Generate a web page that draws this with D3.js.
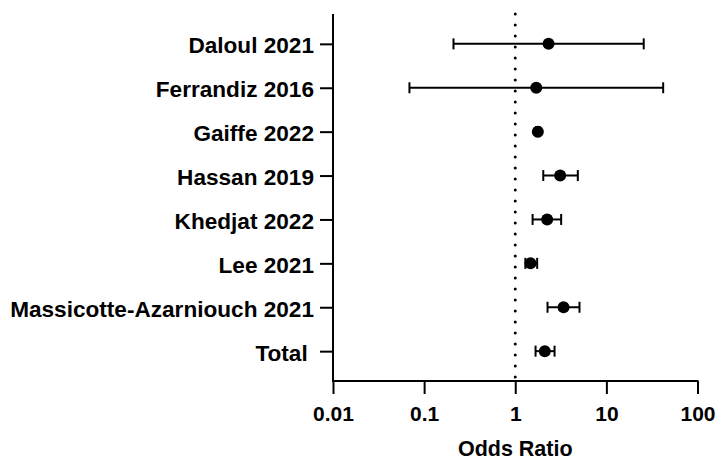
<!DOCTYPE html>
<html>
<head>
<meta charset="utf-8">
<script src="https://cdn.jsdelivr.net/npm/d3@7"></script>
<style>
  html, body { margin: 0; padding: 0; background: #fff; }
  svg { display: block; font-family: "Liberation Sans", Arial, Helvetica, sans-serif; font-weight: bold; }
</style>
</head>
<body>
<svg id="chart" width="716" height="459"></svg>
<script>
// Study labels, top to bottom
const studies = [
  "Daloul 2021",
  "Ferrandiz 2016",
  "Gaiffe 2022",
  "Hassan 2019",
  "Khedjat 2022",
  "Lee 2021",
  "Massicotte-Azarniouch 2021",
  "Total\u00a0"
];
// Odds ratios with 95% confidence limits
const oddsRatio = [2.32, 1.70, 1.77, 3.11, 2.24, 1.47, 3.39, 2.11];
const ciLower   = [0.21, 0.069, 1.69, 2.03, 1.55, 1.29, 2.26, 1.67];
const ciUpper   = [25.7, 42.0, 1.86, 4.86, 3.19, 1.74, 5.07, 2.70];
// Log-axis ticks
const tickValues = [0.01, 0.1, 1, 10, 100];
const tickLabels = ["0.01", "0.1", "1", "10", "100"];

const rows = studies.map((s, i) => ({
  study: s, or: oddsRatio[i], lo: ciLower[i], hi: ciUpper[i]
}));

const svg = d3.select("#chart");
const plotLeft = 333, plotRight = 697.5, plotTop = 14, plotBottom = 381;

const x = d3.scaleLog().domain([0.01, 100]).range([plotLeft, plotRight]);
const y = d3.scalePoint().domain(studies).range([plotTop, plotBottom]).padding(0.68);

// Reference line at OR = 1
svg.append("line")
  .attr("x1", x(1)).attr("x2", x(1))
  .attr("y1", plotTop).attr("y2", plotBottom - 3)
  .attr("stroke", "#000")
  .attr("stroke-width", 3)
  .attr("stroke-linecap", "round")
  .attr("stroke-dasharray", "0,11");

// X axis
const xAxis = svg.append("g")
  .attr("transform", `translate(0,${plotBottom})`)
  .call(d3.axisBottom(x)
    .tickValues(tickValues)
    .tickFormat((d, i) => tickLabels[i])
    .tickSize(13)
    .tickSizeOuter(0)
    .tickPadding(12));
xAxis.select(".domain").attr("stroke-width", 2).attr("d", `M${plotLeft - 1},0H${plotRight + 1}`);
xAxis.selectAll(".tick line").attr("stroke-width", 2);
xAxis.selectAll(".tick text")
  .attr("fill", "#000")
  .style("font-size", "21px")
  .style("font-weight", "bold");

// Y axis
const yAxis = svg.append("g")
  .attr("transform", `translate(${plotLeft},0)`)
  .call(d3.axisLeft(y).tickSize(13).tickSizeOuter(0).tickPadding(6));
yAxis.select(".domain").attr("stroke-width", 2).attr("d", `M0,${plotTop}V${plotBottom + 1}`);
yAxis.selectAll(".tick line").attr("stroke-width", 2);
yAxis.selectAll(".tick text")
  .attr("fill", "#000")
  .attr("dy", "0.4em")
  .style("font-size", "22.6px")
  .style("font-weight", "bold");

// Axis title
svg.append("text")
  .attr("x", x(1)).attr("y", 455.5)
  .attr("text-anchor", "middle")
  .style("font-size", "21.5px")
  .text("Odds Ratio");

// Confidence intervals with end caps, and point estimates
const g = svg.append("g").attr("stroke", "#000").attr("stroke-width", 2);
const capH = 5.5;
rows.forEach(r => {
  const cy = y(r.study);
  g.append("line").attr("x1", x(r.lo)).attr("x2", x(r.hi)).attr("y1", cy).attr("y2", cy);
  g.append("line").attr("x1", x(r.lo)).attr("x2", x(r.lo)).attr("y1", cy - capH).attr("y2", cy + capH);
  g.append("line").attr("x1", x(r.hi)).attr("x2", x(r.hi)).attr("y1", cy - capH).attr("y2", cy + capH);
});
svg.append("g").selectAll("circle")
  .data(rows)
  .join("circle")
  .attr("cx", d => x(d.or))
  .attr("cy", d => y(d.study))
  .attr("r", 6)
  .attr("fill", "#000");
</script>
</body>
</html>
